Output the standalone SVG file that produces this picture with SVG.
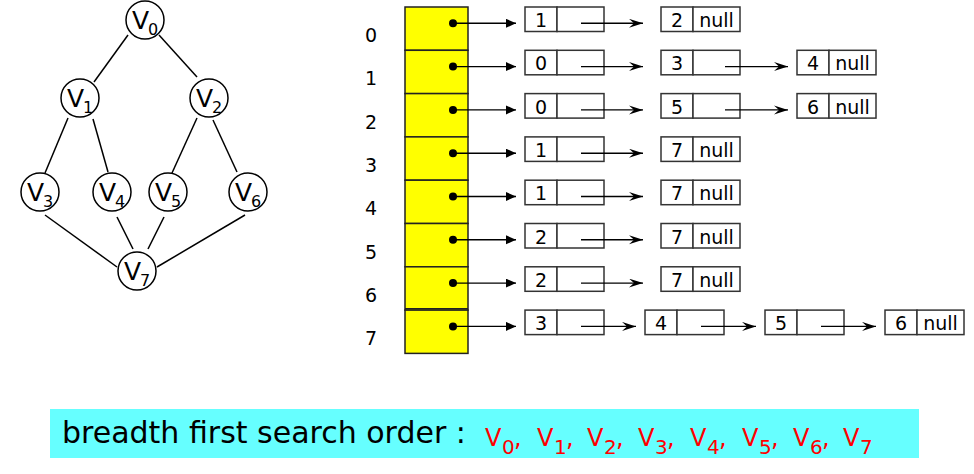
<svg xmlns="http://www.w3.org/2000/svg" width="974" height="474" viewBox="0 0 974 474">
<style>
text{font-family:"DejaVu Sans","Liberation Sans",sans-serif;}
.gc{fill:#fff;stroke:#000;stroke-width:1.5;}
.gv{font-size:25px;fill:#000;}
.gs{font-size:16px;fill:#000;}
.edge{stroke:#000;stroke-width:1.5;fill:none;}
.cell{fill:#fff;stroke:#333;stroke-width:1.5;}
.bt{font-size:19px;fill:#000;text-anchor:middle;}
.idx{font-size:19px;fill:#000;text-anchor:middle;}
.ptr{stroke:#000;stroke-width:1.4;fill:none;}
.slot{fill:#ffff00;stroke:#222;stroke-width:1.5;}
.rv{font-size:24px;fill:#ff0000;}
.rs{font-size:20px;fill:#ff0000;}
</style>
<defs>
<marker id="tri" markerUnits="userSpaceOnUse" markerWidth="11" markerHeight="10" refX="10" refY="4.5" orient="auto">
<path d="M0,0 L10,4.5 L0,9 z" fill="#000"/>
</marker>
<marker id="barb" markerUnits="userSpaceOnUse" markerWidth="15" markerHeight="10" refX="14" refY="4.5" orient="auto">
<path d="M0,0 L14,4.5 L0,9 L5,4.5 z" fill="#000"/>
</marker>
</defs>

<g id="graph">
<g id="v0"><circle class="gc" cx="145" cy="20" r="19"/><text class="gv" x="132" y="29">V</text><text class="gs" x="148" y="35">0</text></g>
<g id="v1"><circle class="gc" cx="80" cy="98" r="19"/><text class="gv" x="67" y="107">V</text><text class="gs" x="83" y="113">1</text></g>
<g id="v2"><circle class="gc" cx="209" cy="98" r="19"/><text class="gv" x="196" y="107">V</text><text class="gs" x="212" y="113">2</text></g>
<g id="v3"><circle class="gc" cx="40" cy="192" r="19"/><text class="gv" x="27" y="201">V</text><text class="gs" x="43" y="207">3</text></g>
<g id="v4"><circle class="gc" cx="112" cy="192" r="19"/><text class="gv" x="99" y="201">V</text><text class="gs" x="115" y="207">4</text></g>
<g id="v5"><circle class="gc" cx="168" cy="192" r="19"/><text class="gv" x="155" y="201">V</text><text class="gs" x="171" y="207">5</text></g>
<g id="v6"><circle class="gc" cx="248" cy="192" r="19"/><text class="gv" x="235" y="201">V</text><text class="gs" x="251" y="207">6</text></g>
<g id="v7"><circle class="gc" cx="137" cy="271" r="19"/><text class="gv" x="124" y="280">V</text><text class="gs" x="140" y="286">7</text></g>
</g>

<g id="index-labels">
<text class="idx" x="371" y="42">0</text>
<text class="idx" x="371" y="85.3">1</text>
<text class="idx" x="371" y="128.6">2</text>
<text class="idx" x="371" y="171.9">3</text>
<text class="idx" x="371" y="215.2">4</text>
<text class="idx" x="371" y="258.5">5</text>
<text class="idx" x="371" y="301.8">6</text>
<text class="idx" x="371" y="345.1">7</text>
</g>

<g id="array">
<rect class="slot" x="405" y="7" width="63" height="43.3"/>
<rect class="slot" x="405" y="50.3" width="63" height="43.3"/>
<rect class="slot" x="405" y="93.6" width="63" height="43.3"/>
<rect class="slot" x="405" y="136.9" width="63" height="43.3"/>
<rect class="slot" x="405" y="180.2" width="63" height="43.3"/>
<rect class="slot" x="405" y="223.5" width="63" height="43.3"/>
<rect class="slot" x="405" y="266.8" width="63" height="43.3"/>
<rect class="slot" x="405" y="310.1" width="63" height="43.3"/>
<line x1="405" y1="308.6" x2="468" y2="308.6" stroke="#222" stroke-width="1.2"/>
<g fill="#000">
<circle cx="453" cy="23.3" r="4"/>
<circle cx="453" cy="66.6" r="4"/>
<circle cx="453" cy="109.9" r="4"/>
<circle cx="453" cy="153.2" r="4"/>
<circle cx="453" cy="196.5" r="4"/>
<circle cx="453" cy="239.8" r="4"/>
<circle cx="453" cy="283.1" r="4"/>
<circle cx="453" cy="326.4" r="4"/>
</g>
</g>

<g id="lists">
<g id="row0">
<g id="n0a"><rect class="cell" x="525" y="7" width="32" height="24.5"/><rect class="cell" x="557" y="7" width="47" height="24.5"/><text class="bt" x="541" y="27">1</text></g>
<g id="n0b"><rect class="cell" x="661" y="7" width="32" height="24.5"/><rect class="cell" x="693" y="7" width="47" height="24.5"/><text class="bt" x="677" y="27">2</text><text class="bt" x="716.5" y="27">null</text></g>
</g>
<g id="row1" transform="translate(0,43.3)">
<g id="n1a"><rect class="cell" x="525" y="7" width="32" height="24.5"/><rect class="cell" x="557" y="7" width="47" height="24.5"/><text class="bt" x="541" y="27">0</text></g>
<g id="n1b"><rect class="cell" x="661" y="7" width="32" height="24.5"/><rect class="cell" x="693" y="7" width="47" height="24.5"/><text class="bt" x="677" y="27">3</text></g>
<g id="n1c"><rect class="cell" x="797" y="7" width="32" height="24.5"/><rect class="cell" x="829" y="7" width="47" height="24.5"/><text class="bt" x="813" y="27">4</text><text class="bt" x="852.5" y="27">null</text></g>
</g>
<g id="row2" transform="translate(0,86.6)">
<g id="n2a"><rect class="cell" x="525" y="7" width="32" height="24.5"/><rect class="cell" x="557" y="7" width="47" height="24.5"/><text class="bt" x="541" y="27">0</text></g>
<g id="n2b"><rect class="cell" x="661" y="7" width="32" height="24.5"/><rect class="cell" x="693" y="7" width="47" height="24.5"/><text class="bt" x="677" y="27">5</text></g>
<g id="n2c"><rect class="cell" x="797" y="7" width="32" height="24.5"/><rect class="cell" x="829" y="7" width="47" height="24.5"/><text class="bt" x="813" y="27">6</text><text class="bt" x="852.5" y="27">null</text></g>
</g>
<g id="row3" transform="translate(0,129.9)">
<g id="n3a"><rect class="cell" x="525" y="7" width="32" height="24.5"/><rect class="cell" x="557" y="7" width="47" height="24.5"/><text class="bt" x="541" y="27">1</text></g>
<g id="n3b"><rect class="cell" x="661" y="7" width="32" height="24.5"/><rect class="cell" x="693" y="7" width="47" height="24.5"/><text class="bt" x="677" y="27">7</text><text class="bt" x="716.5" y="27">null</text></g>
</g>
<g id="row4" transform="translate(0,173.2)">
<g id="n4a"><rect class="cell" x="525" y="7" width="32" height="24.5"/><rect class="cell" x="557" y="7" width="47" height="24.5"/><text class="bt" x="541" y="27">1</text></g>
<g id="n4b"><rect class="cell" x="661" y="7" width="32" height="24.5"/><rect class="cell" x="693" y="7" width="47" height="24.5"/><text class="bt" x="677" y="27">7</text><text class="bt" x="716.5" y="27">null</text></g>
</g>
<g id="row5" transform="translate(0,216.5)">
<g id="n5a"><rect class="cell" x="525" y="7" width="32" height="24.5"/><rect class="cell" x="557" y="7" width="47" height="24.5"/><text class="bt" x="541" y="27">2</text></g>
<g id="n5b"><rect class="cell" x="661" y="7" width="32" height="24.5"/><rect class="cell" x="693" y="7" width="47" height="24.5"/><text class="bt" x="677" y="27">7</text><text class="bt" x="716.5" y="27">null</text></g>
</g>
<g id="row6" transform="translate(0,259.8)">
<g id="n6a"><rect class="cell" x="525" y="7" width="32" height="24.5"/><rect class="cell" x="557" y="7" width="47" height="24.5"/><text class="bt" x="541" y="27">2</text></g>
<g id="n6b"><rect class="cell" x="661" y="7" width="32" height="24.5"/><rect class="cell" x="693" y="7" width="47" height="24.5"/><text class="bt" x="677" y="27">7</text><text class="bt" x="716.5" y="27">null</text></g>
</g>
<g id="row7" transform="translate(0,303.1)">
<g id="n7a"><rect class="cell" x="525" y="7" width="32" height="24.5"/><rect class="cell" x="557" y="7" width="47" height="24.5"/><text class="bt" x="541" y="27">3</text></g>
<g id="n7b"><rect class="cell" x="645" y="7" width="32" height="24.5"/><rect class="cell" x="677" y="7" width="47" height="24.5"/><text class="bt" x="661" y="27">4</text></g>
<g id="n7c"><rect class="cell" x="765" y="7" width="32" height="24.5"/><rect class="cell" x="797" y="7" width="47" height="24.5"/><text class="bt" x="781" y="27">5</text></g>
<g id="n7d"><rect class="cell" x="885" y="7" width="32" height="24.5"/><rect class="cell" x="917" y="7" width="47" height="24.5"/><text class="bt" x="901" y="27">6</text><text class="bt" x="940.5" y="27">null</text></g>
</g>
</g>

<g id="connectors">
<g id="graph-edges" class="edge">
<line x1="128" y1="35" x2="94" y2="82"/>
<line x1="159" y1="35" x2="197" y2="77"/>
<line x1="68" y1="118" x2="45" y2="173"/>
<line x1="93" y1="119" x2="108" y2="172"/>
<line x1="197" y1="118" x2="172" y2="173"/>
<line x1="213" y1="120" x2="237" y2="172"/>
<line x1="45" y1="215" x2="117" y2="267"/>
<line x1="117" y1="217" x2="133" y2="249"/>
<line x1="164" y1="217" x2="148" y2="249"/>
<line x1="245" y1="215" x2="157" y2="267"/>
</g>
<g id="list-arrows">
<g class="ptr" marker-end="url(#tri)">
<line x1="453" y1="23.3" x2="516" y2="23.3"/>
<line x1="453" y1="66.6" x2="516" y2="66.6"/>
<line x1="453" y1="109.9" x2="516" y2="109.9"/>
<line x1="453" y1="153.2" x2="516" y2="153.2"/>
<line x1="453" y1="196.5" x2="516" y2="196.5"/>
<line x1="453" y1="239.8" x2="516" y2="239.8"/>
<line x1="453" y1="283.1" x2="516" y2="283.1"/>
<line x1="453" y1="326.4" x2="516" y2="326.4"/>
</g>
<g class="ptr" marker-end="url(#barb)">
<line x1="581" y1="23.3" x2="643" y2="23.3"/>
<line x1="581" y1="66.6" x2="643" y2="66.6"/>
<line x1="725" y1="66.6" x2="788" y2="66.6"/>
<line x1="581" y1="109.9" x2="643" y2="109.9"/>
<line x1="725" y1="109.9" x2="788" y2="109.9"/>
<line x1="581" y1="153.2" x2="643" y2="153.2"/>
<line x1="581" y1="196.5" x2="643" y2="196.5"/>
<line x1="581" y1="239.8" x2="643" y2="239.8"/>
<line x1="581" y1="283.1" x2="643" y2="283.1"/>
<line x1="581" y1="326.4" x2="636" y2="326.4"/>
<line x1="701" y1="326.4" x2="756" y2="326.4"/>
<line x1="821" y1="326.4" x2="876" y2="326.4"/>
</g>
</g>
</g>

<g id="banner">
<rect x="50" y="409" width="869" height="49" fill="#66ffff"/>
<text x="62" y="443" font-size="30" fill="#000">breadth first search order :</text>
<g>
<text class="rv" x="485" y="446">V</text><text class="rs" x="502" y="454">0</text><text class="rv" x="514" y="446">,</text>
<text class="rv" x="537" y="446">V</text><text class="rs" x="554" y="454">1</text><text class="rv" x="566" y="446">,</text>
<text class="rv" x="587" y="446">V</text><text class="rs" x="604" y="454">2</text><text class="rv" x="616" y="446">,</text>
<text class="rv" x="638" y="446">V</text><text class="rs" x="655" y="454">3</text><text class="rv" x="667" y="446">,</text>
<text class="rv" x="690" y="446">V</text><text class="rs" x="707" y="454">4</text><text class="rv" x="719" y="446">,</text>
<text class="rv" x="742" y="446">V</text><text class="rs" x="759" y="454">5</text><text class="rv" x="771" y="446">,</text>
<text class="rv" x="793" y="446">V</text><text class="rs" x="810" y="454">6</text><text class="rv" x="822" y="446">,</text>
<text class="rv" x="843" y="446">V</text><text class="rs" x="860" y="454">7</text>
</g>
</g>
</svg>
